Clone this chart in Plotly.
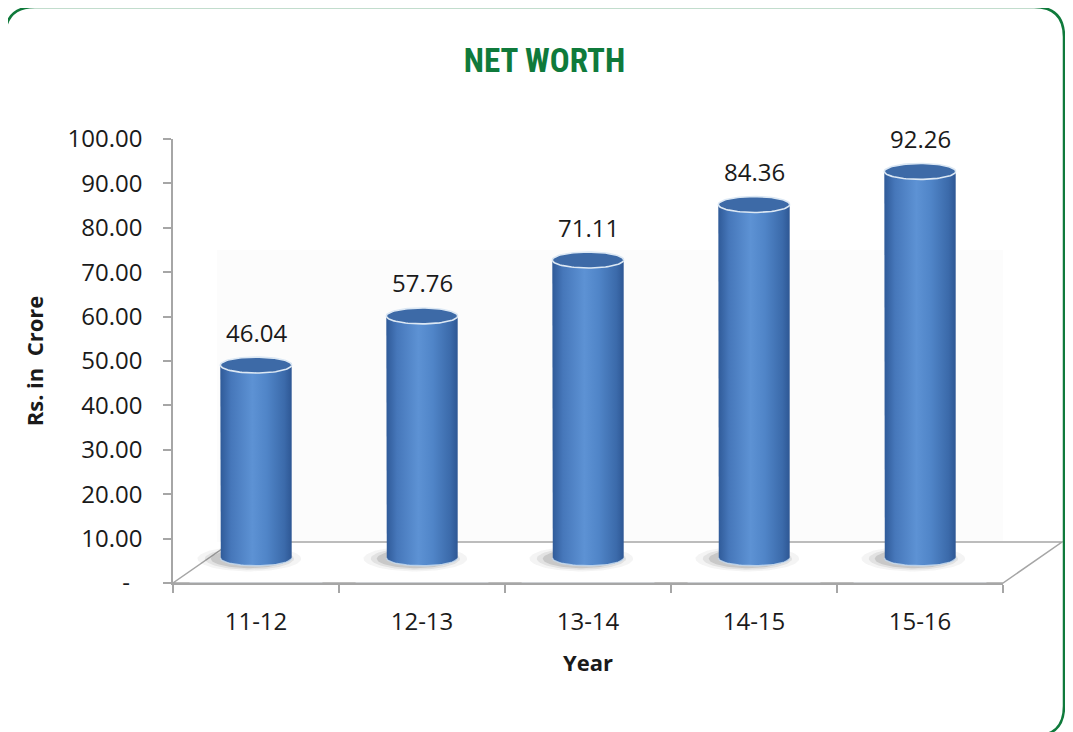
import numpy as np
import plotly.graph_objects as go

# data
years = ['11-12', '12-13', '13-14', '14-15', '15-16']
net_worth = [46.04, 57.76, 71.11, 84.36, 92.26]
y_tick_vals = [0, 10, 20, 30, 40, 50, 60, 70, 80, 90, 100]
y_tick_text = ['-\u00a0\u00a0', '10.00', '20.00', '30.00', '40.00', '50.00',
               '60.00', '70.00', '80.00', '90.00', '100.00']

GREEN = '#0f7a3b'
AXIS = '#a6a6a6'
TEXT = '#1a1a1a'
FONT = '"Open Sans", "Liberation Sans", sans-serif'
BODY_SCALE = [[0, '#2f5a98'], [0.15, '#4677ba'], [0.45, '#5d92d4'],
              [0.65, '#5085c8'], [0.9, '#3b6aaa'], [1, '#2e5794']]

# page geometry (pixels); the page body adds an 8px margin
FIG_W, FIG_H = 1073, 732
OFF = 8
M = dict(l=100, r=40, t=100, b=100)
PLOT_W = FIG_W - M['l'] - M['r']
PLOT_H = FIG_H - M['t'] - M['b']

# front plane of the 3d box, and depth offset of back plane
X0, X1 = 173, 1003
Y0, Y1 = 583, 139
DX, DY = 59, 41
SCALE = (Y0 - Y1) / 100.0
Y2_LO = -6


def px(x):
    return (x - OFF - M['l']) / PLOT_W


def py(y):
    return (FIG_H - M['b'] - (y - OFF)) / PLOT_H


fig = go.Figure()

# cylinders sit half way into the box
HW = 0.215      # half width in category units
RY = 1.9        # ellipse half height in value units
t = np.linspace(0, np.pi, 40)
tt = np.linspace(0, 2 * np.pi, 90)

for i, v in enumerate(net_worth):
    # soft shadow on the floor
    for k, a in [(1.45, 0.05), (1.25, 0.09), (1.08, 0.14)]:
        fig.add_trace(go.Scatter(
            x=i - 0.04 + HW * k * np.cos(tt), y=-0.2 + RY * k * 1.1 * np.sin(tt),
            fill='toself', fillcolor=f'rgba(40,40,40,{a})', line=dict(width=0),
            mode='lines', hoverinfo='skip', showlegend=False,
            xaxis='x2', yaxis='y2',
        ))
    bx = np.concatenate([[i - HW, i - HW], i - HW * np.cos(t), [i + HW]])
    by = np.concatenate([[v, 0], -RY * np.sin(t), [v]])
    fig.add_trace(go.Scatter(
        x=bx, y=by, fill='toself', mode='lines', line=dict(width=0),
        fillgradient=dict(type='horizontal', colorscale=BODY_SCALE),
        hoverinfo='skip', showlegend=False, xaxis='x2', yaxis='y2',
    ))
    # light rim at the bottom
    fig.add_trace(go.Scatter(
        x=i - HW * np.cos(t), y=-RY * np.sin(t), mode='lines',
        line=dict(color='rgba(200,220,240,0.8)', width=1.5),
        hoverinfo='skip', showlegend=False, xaxis='x2', yaxis='y2',
    ))
    # top cap
    fig.add_trace(go.Scatter(
        x=i + HW * np.cos(tt), y=v + RY * np.sin(tt),
        fill='toself', fillcolor='#3d6aa7', mode='lines',
        line=dict(color='#dce8f4', width=1.6),
        hovertemplate=f'{years[i]}: {v:.2f}<extra></extra>',
        showlegend=False, xaxis='x2', yaxis='y2',
    ))

# value labels
for i, v in enumerate(net_worth):
    fig.add_annotation(
        x=i, y=v, xref='x2', yref='y2', text=f'{v:.2f}', showarrow=False,
        yshift=33, font=dict(family=FONT, size=24, color=TEXT),
    )

# invisible trace to carry the category axis
fig.add_trace(go.Bar(x=years, y=[0] * len(years), marker_color='rgba(0,0,0,0)',
                     hoverinfo='skip', showlegend=False))

# floor, faint wall and the rounded green frame
fx = [X0, X1, X1 + DX, X0 + DX]
fy = [Y0, Y0, Y0 - DY, Y0 - DY]
floor_path = 'M ' + ' L '.join(f'{px(a)},{py(b)}' for a, b in zip(fx, fy)) + ' Z'

# frame runs off the bottom of the page; only the lower right corner shows
L, T, R, B, RAD = 5, 7, 1064, 736, 30
frame = (f'M {px(L)},{py(B + 20)} L {px(L)},{py(T + RAD)} '
         f'Q {px(L)},{py(T)} {px(L + RAD)},{py(T)} L {px(R - RAD)},{py(T)} '
         f'Q {px(R)},{py(T)} {px(R)},{py(T + RAD)} L {px(R)},{py(B - RAD)} '
         f'Q {px(R)},{py(B)} {px(R - RAD)},{py(B)} L {px(L + RAD)},{py(B + 20)}')

fig.update_layout(shapes=[
    dict(type='rect', xref='paper', yref='paper', layer='below',
         x0=px(X0 + DX - 15), x1=px(X1), y0=py(Y0 - DY), y1=py(250),
         fillcolor='rgba(0,0,0,0.012)', line=dict(width=0)),
    dict(type='path', path=floor_path, xref='paper', yref='paper', layer='below',
         fillcolor='white', line=dict(color=AXIS, width=1.5)),
    dict(type='path', path=frame, xref='paper', yref='paper',
         line=dict(color=GREEN, width=2.5)),
])

mid_x, mid_y = DX / 2, DY / 2
fig.update_layout(
    width=FIG_W, height=FIG_H,
    margin=M,
    paper_bgcolor='white', plot_bgcolor='rgba(0,0,0,0)',
    font=dict(family=FONT, color=TEXT),
    title=dict(text='NET WORTH', x=0.5, xanchor='center', y=1 - (60 - OFF) / FIG_H, yanchor='middle',
               font=dict(family='"Liberation Sans Narrow", "Arial Narrow", "Roboto Condensed", Roboto',
                         size=33, color=GREEN, weight='bold')),
    xaxis=dict(
        domain=[px(X0), px(X1)], type='category', range=[-0.5, 4.5],
        showline=True, linecolor=AXIS, linewidth=1.5,
        ticks='outside', tickson='boundaries', ticklen=8, tickcolor=AXIS, tickwidth=1.5,
        tickfont=dict(family=FONT, size=24, color=TEXT), ticklabelstandoff=16,
        showgrid=False, zeroline=False,
        title=dict(text='<b>Year</b>', font=dict(family=FONT, size=22, color=TEXT), standoff=20),
    ),
    yaxis=dict(
        domain=[py(Y0), py(Y1)], range=[0, 100],
        tickvals=y_tick_vals, ticktext=y_tick_text,
        showline=True, linecolor=AXIS, linewidth=1.5,
        ticks='outside', ticklen=8, tickcolor=AXIS, tickwidth=1.5,
        tickfont=dict(family=FONT, size=24, color=TEXT), ticklabelstandoff=16,
        showgrid=False, zeroline=False,
        title=dict(text='<b>Rs. in  Crore</b>', font=dict(family=FONT, size=22, color=TEXT), standoff=18),
    ),
    xaxis2=dict(
        domain=[px(X0 + mid_x), px(X1 + mid_x)], range=[-0.5, 4.5],
        overlaying='x', anchor='y2', visible=False,
    ),
    yaxis2=dict(
        domain=[py(Y0 - mid_y - Y2_LO * SCALE), py(Y1 - mid_y)], range=[Y2_LO, 100],
        overlaying='y', anchor='x2', visible=False,
    ),
)

fig.write_html('out.html')
